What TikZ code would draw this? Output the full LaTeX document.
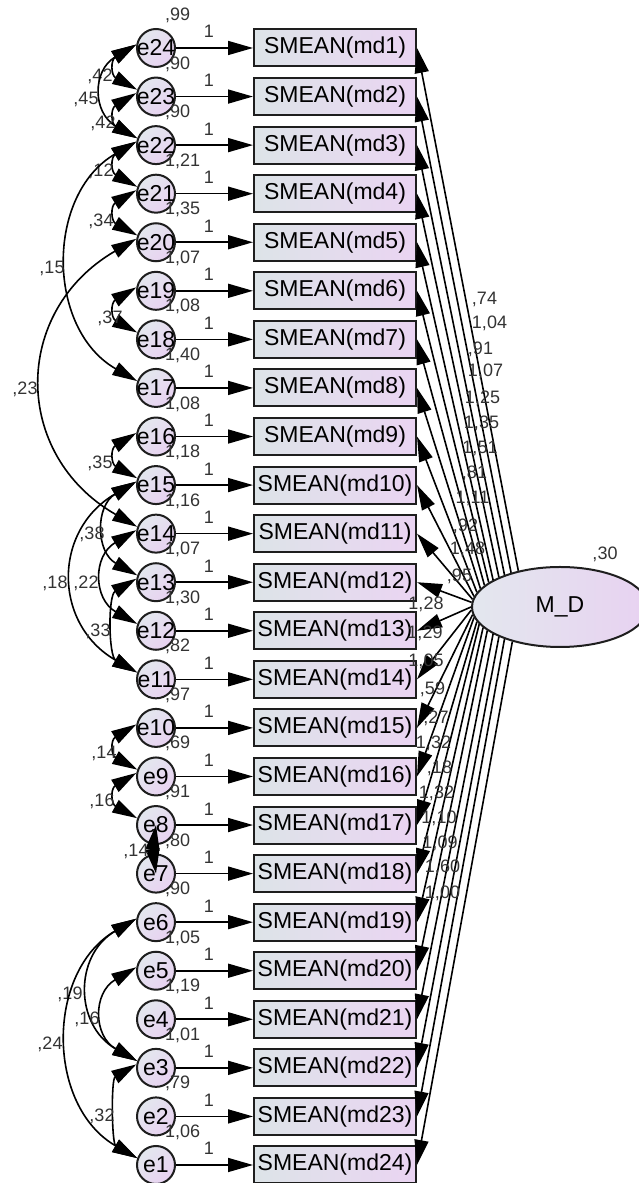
\documentclass[tikz,border=0pt]{standalone}
\usepackage{fontspec}
\setmainfont{Liberation Sans}
\usetikzlibrary{arrows.meta,shapes.geometric}
\definecolor{ink}{HTML}{1E1E1E}
\definecolor{lbl}{HTML}{333333}
\definecolor{boxL}{HTML}{DDE4E8}
\definecolor{boxR}{HTML}{EAD4F2}
\definecolor{cirA}{HTML}{E3E7EE}
\definecolor{cirB}{HTML}{E8D2F1}
\begin{document}
\begin{tikzpicture}[x=1pt,y=1pt,
  >={Triangle[length=25pt,width=14pt]},
  obsbox/.style={draw=ink,line width=2pt,left color=boxL,right color=boxR,
    minimum width=162pt,minimum height=37pt,inner sep=0pt,
    font=\fontsize{23}{26}\selectfont},
  errc/.style={circle,draw=ink,line width=2pt,top color=cirA,bottom color=cirB,
    shading angle=45,minimum size=38pt,inner sep=0pt,
    font=\fontsize{23}{26}\selectfont},
  latent/.style={ellipse,draw=ink,line width=2pt,left color=cirA,right color=cirB,
    minimum width=176pt,minimum height=80pt,inner sep=0pt,
    font=\fontsize{23}{26}\selectfont},
  reg/.style={->,draw=black,line width=1.6pt},
  cov/.style={<->,draw=black,line width=1.6pt},
  num/.style={font=\fontsize{18}{20}\selectfont,text=lbl,inner sep=0pt,anchor=base},
]
\useasboundingbox (0,0) rectangle (639,1183);
\clip (0,0) rectangle (639,1183);

% latent factor
\node[latent] (MD) at (560,576) {M\_D};
\node[num] (vMD) at (605,623.5) {,30};

% observed items and their error terms
\foreach \j in {1,...,24}{
  \pgfmathsetmacro\yy{1135-(\j-1)*48.565}
  \pgfmathtruncatemacro\k{25-\j}
  \node[obsbox] (md\j) at (335,\yy) {SMEAN(md\j)};
  \node[errc] (e\k) at (156,\yy) {\makebox[0pt]{e\k}};
}

% error -> item paths, fixed at 1
\foreach \j in {1,...,24}{
  \pgfmathsetmacro\yy{1135-(\j-1)*48.565}
  \pgfmathtruncatemacro\k{25-\j}
  \draw[reg] (e\k) -- (md\j);
  \node[num] (w\j) at (209,{\yy+10}) {1};
}

% error variances
\foreach \j/\v in {1/{,99},2/{,90},3/{,90},4/{1,21},5/{1,35},6/{1,07},7/{1,08},8/{1,40},
  9/{1,08},10/{1,18},11/{1,16},12/{1,07},13/{1,30},14/{,82},15/{,97},16/{,69},
  17/{,91},18/{,80},19/{,90},20/{1,05},21/{1,19},22/{1,01},23/{,79},24/{1,06}}{
  \pgfmathsetmacro\yy{1135-(\j-1)*48.565+27.5}
  \node[num,anchor=base west] (v\j) at (165,\yy) {\v};
}

% factor loadings
\foreach \j in {1,...,24}{
  \pgfmathsetmacro\tt{118+(\j-1)*120/23}
  \pgfmathtruncatemacro\ang{mod(atan2(40*sin(\tt),88*cos(\tt))+360,360)}
  \draw[reg] (MD.\ang) -- (md\j.east);
}
\foreach \j/\lx/\ly/\s in {1/484.5/298/{,74},2/489.5/322/{1,04},3/480.5/348/{,91},
  4/485.5/370/{1,07},5/482.5/397/{1,25},6/481.5/422/{1,35},7/480/447/{1,51},
  8/474.5/472/{,81},9/472.5/497/{1,11},10/465.5/525/{,92},11/467.5/548/{1,48},
  12/459.5/575/{,95},13/426/603/{1,28},14/425/632/{1,29},15/426/660/{1,05},
  16/432.5/688/{,59},17/436/717/{,27},18/433.5/742/{1,32},19/439.5/767/{,18},
  20/436.5/792/{1,32},21/439/817/{1,10},22/440/842/{1,09},23/442.5/866/{1,60},
  24/442.5/892/{1,00}}{
  \node[num] (ld\j) at (\lx,{1183-\ly-6.5}) {\s};
}

% error covariances
\foreach \a/\b/\l/\lx/\ly/\s in {24/23/1.7/100/75/{,42},24/22/1.4/86/98/{,45},
  23/22/1.7/103/122/{,42},22/21/1.7/101/170/{,12},21/20/1.7/101/220/{,34},
  22/17/1.12/52/267/{,15},19/18/1.7/110/317/{,37},20/14/1.28/25/388/{,23},
  16/15/1.7/100/462/{,35},15/13/1.3/92/533/{,38},15/11/1.3/55/582/{,18},
  14/12/1.38/86/582/{,22},13/11/0.9/98/630/{,33},10/9/1.7/104/752/{,14},
  9/8/1.7/102/800/{,16},6/3/1.3/70/993/{,19},5/3/1.38/87/1018/{,16},
  6/1/1.12/50/1043/{,24},3/1/0.8/102/1115/{,32}}{
  \draw[cov] (e\a.170) to[bend right=60,looseness=\l] (e\b.160);
  \node[num] (c\a x\b) at (\lx,{1183-\ly-6.5}) {\s};
}
\draw[cov] (e8.center) to[bend right=8] (e7.center);
\node[num] (c8x7) at (136,{1183-850-6.5}) {,14};
\end{tikzpicture}
\end{document}
